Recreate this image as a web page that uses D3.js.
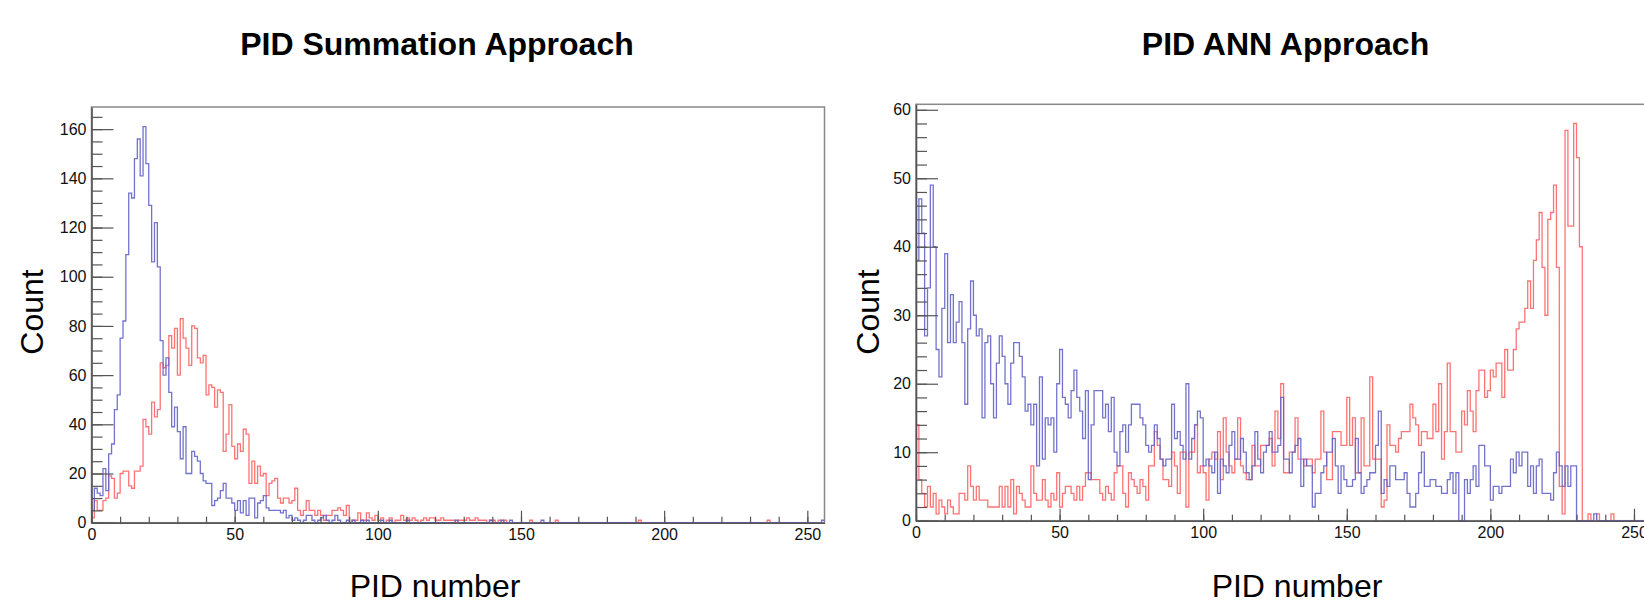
<!DOCTYPE html>
<html>
<head>
<meta charset="utf-8">
<script src="https://cdn.jsdelivr.net/npm/d3@7"></script>
<style>
  body { margin: 0; background: #fff; }
  svg { display: block; font-family: "Liberation Sans", Arial, Helvetica, sans-serif; }
</style>
</head>
<body>
<script>
// bin contents, 256 bins of width 1 (PID number 0..256)
var sumBlue = [
  5,14,12,11,22,13,28,32,46,52,75,82,109,134,132,148,156,141,161,146,129,106,122,104,74,60,67,53,39,47,37,26,
  39,20,20,29,27,25,20,17,16,16,7,9,10,13,16,10,10,8,5,9,4,9,3,10,10,2,8,9,11,6,5,5,
  5,5,4,5,2,3,1,2,1,0,1,3,3,1,0,1,2,3,1,0,1,3,1,0,0,1,0,1,0,0,1,0,
  1,0,0,0,0,1,0,0,1,0,0,0,0,0,1,0,0,0,0,0,0,0,0,0,0,0,0,0,0,0,0,1,
  0,0,0,0,0,0,0,0,0,0,0,1,0,0,0,1,0,0,1,0,0,0,0,0,0,0,0,0,0,1,0,0,
  0,0,0,0,0,0,0,0,0,0,0,0,0,0,0,0,0,0,0,0,0,0,0,0,0,0,0,0,0,0,0,0,
  0,0,0,0,0,0,0,0,0,0,0,0,0,0,0,0,0,0,0,0,0,0,0,0,0,0,0,0,0,0,0,0,
  0,0,0,0,0,0,0,0,0,0,0,0,0,0,0,0,0,0,0,0,0,0,0,0,0,0,0,0,0,0,0,1
];
var sumRed = [
  2,9,5,5,9,10,19,18,10,12,20,21,21,15,14,21,21,23,42,39,36,49,43,46,65,63,64,76,71,79,60,83,
  75,71,64,80,79,67,65,68,52,56,55,47,54,53,29,36,48,31,26,32,29,38,36,16,25,16,23,19,20,11,16,17,
  18,10,8,10,10,8,9,14,5,3,5,9,5,5,3,5,3,1,3,3,5,5,6,5,3,7,0,1,1,4,1,1,
  4,2,1,3,1,2,0,1,2,0,1,1,3,1,2,1,2,1,0,1,2,1,2,2,1,1,2,1,1,1,1,0,
  1,1,1,2,1,1,2,1,1,1,0,1,1,0,1,0,1,0,0,0,0,0,0,0,0,1,0,0,0,0,0,0,
  0,0,1,0,0,0,0,0,0,0,0,0,0,0,0,0,0,0,0,0,0,0,0,0,0,0,0,0,0,0,0,1,
  0,0,0,0,0,0,0,0,0,0,0,0,0,0,0,0,0,0,0,0,0,0,0,0,0,0,0,0,0,0,0,0,
  0,0,0,0,0,0,0,0,0,0,0,0,1,0,0,0,0,0,0,0,0,0,0,0,0,0,0,0,0,0,0,0
];
var annBlue = [
  38,47,42,27,34,49,40,25,21,31,39,26,33,26,29,32,26,17,28,35,30,27,28,15,26,27,20,15,23,27,24,20,
  17,23,26,26,24,21,16,17,14,17,8,21,9,15,14,15,10,20,25,18,17,15,19,22,18,16,12,19,6,14,19,19,
  19,15,17,13,18,10,8,13,14,10,14,17,17,17,15,14,11,10,11,14,12,9,8,9,9,17,12,13,11,9,20,9,
  12,14,16,15,8,9,8,7,10,4,9,8,7,11,13,9,9,12,10,7,6,8,13,9,7,10,11,13,10,10,11,18,
  9,9,7,10,11,12,5,9,8,8,2,4,4,7,8,10,10,12,8,4,8,6,5,5,6,12,7,4,5,6,7,7,
  11,16,4,6,5,8,8,6,6,6,7,4,2,2,4,7,10,5,5,6,6,5,5,4,4,6,7,4,7,0,0,6,
  4,6,8,5,11,11,8,8,3,5,5,4,5,5,5,9,7,10,8,10,10,5,8,4,8,9,4,4,4,3,7,10,
  8,5,8,5,8,8,0,0,0,0,0,0,1,0,0,0,0,0,0,0,0,0,0,0,0,0,0,0,0,0,0,0
];
var annRed = [
  14,6,4,2,5,2,4,1,3,2,1,3,2,1,1,4,4,3,8,5,3,5,3,3,3,2,2,2,2,5,2,5,
  2,6,1,5,4,3,2,2,8,4,3,3,6,3,2,4,3,7,2,4,5,5,4,3,5,3,5,7,7,6,6,6,
  4,3,5,4,3,7,8,8,4,2,7,6,5,4,6,5,3,8,8,13,11,9,6,6,5,10,8,4,10,10,2,10,
  10,14,7,8,7,3,9,10,9,13,6,15,10,8,7,9,15,8,7,6,6,11,8,8,11,11,11,12,8,16,12,20,
  7,7,10,10,15,9,9,8,9,9,7,9,9,16,10,6,6,13,13,13,11,11,18,11,15,7,7,15,8,8,21,9,
  9,9,2,3,14,11,11,10,12,13,13,13,17,15,14,11,13,13,12,12,17,13,20,9,13,23,13,13,10,10,16,14,
  19,16,13,19,22,22,18,19,22,21,23,23,18,25,22,22,25,28,29,29,31,35,31,38,41,45,37,30,44,45,49,37,
  5,1,57,43,43,58,53,40,0,0,1,0,0,1,0,0,0,0,1,0,0,0,0,0,0,0,0,0,0,0,0,0
];

var xTicks = [0, 50, 100, 150, 200, 250];
var sumYTicks = [0, 20, 40, 60, 80, 100, 120, 140, 160];
var annYTicks = [0, 10, 20, 30, 40, 50, 60];
var titles = ["PID Summation Approach", "PID ANN Approach"];
var xTitle = "PID number", yTitle = "Count";

var blue = "#6464c8", red = "#ff6464", axisColor = "#555";

var svg = d3.select("body").append("svg")
    .attr("width", 1644)
    .attr("height", 604);

var panels = [
  {blue: sumBlue, red: sumRed, yTicks: sumYTicks, yMax: 169, yMinor: 5,
   left: 91.5, right: 824.5, top: 107, bottom: 522.7,
   title: titles[0], titleX: 437, xTitleX: 435, yTitleX: 43},
  {blue: annBlue, red: annRed, yTicks: annYTicks, yMax: 60.8, yMinor: 2,
   left: 916, right: 1651.2, top: 104.3, bottom: 520.7,
   title: titles[1], titleX: 1285.5, xTitleX: 1297, yTitleX: 879}
];

panels.forEach(function(p) {
  var x = d3.scaleLinear().domain([0, 256]).range([p.left, p.right]);
  var y = d3.scaleLinear().domain([0, p.yMax]).range([p.bottom, p.top]);

  var g = svg.append("g");

  // frame
  g.append("rect")
      .attr("x", p.left).attr("y", p.top)
      .attr("width", p.right - p.left).attr("height", p.bottom - p.top)
      .attr("fill", "none")
      .attr("stroke", "#888")
      .attr("stroke-width", 1.5);

  var line = d3.line()
      .x(function(d) { return x(d[0]); })
      .y(function(d) { return y(d[1]); })
      .curve(d3.curveStepAfter);

  [[p.red, red], [p.blue, blue]].forEach(function(s) {
    var pts = s[0].map(function(v, i) { return [i, v]; });
    pts.push([s[0].length, s[0][s[0].length - 1]]);
    g.append("path")
        .attr("d", line(pts))
        .attr("fill", "none")
        .attr("stroke", s[1])
        .attr("stroke-width", 1.3)
        .attr("stroke-opacity", 0.9);
  });

  // minor ticks
  g.append("g")
      .attr("transform", "translate(" + p.left + ",0)")
      .call(d3.axisLeft(y).tickValues(d3.range(0, p.yMax, p.yMinor)).tickSize(-11).tickFormat(""))
      .call(function(a) { a.select(".domain").remove(); });
  g.append("g")
      .attr("transform", "translate(0," + p.bottom + ")")
      .call(d3.axisBottom(x).tickValues(d3.range(0, 256, 10)).tickSize(-6).tickFormat(""))
      .call(function(a) { a.select(".domain").remove(); });

  // major ticks + labels
  g.append("g")
      .attr("transform", "translate(" + p.left + ",0)")
      .call(d3.axisLeft(y).tickValues(p.yTicks).tickSize(-22).tickSizeOuter(0).tickPadding(5));
  g.append("g")
      .attr("transform", "translate(0," + p.bottom + ")")
      .call(d3.axisBottom(x).tickValues(xTicks).tickSize(-12).tickSizeOuter(0).tickPadding(6));

  g.selectAll(".tick line").attr("stroke", axisColor).attr("stroke-width", 1.2);
  g.selectAll(".domain").attr("stroke", axisColor).attr("stroke-width", 1.6);
  g.selectAll(".tick text")
      .attr("fill", "#111")
      .style("font-size", "16px")
      .style("font-family", "'Liberation Sans', Arial, sans-serif");

  // titles
  g.append("text")
      .attr("x", p.titleX).attr("y", 55)
      .attr("text-anchor", "middle")
      .style("font-size", "32px")
      .style("font-weight", "bold")
      .text(p.title);

  g.append("text")
      .attr("x", p.xTitleX).attr("y", 597)
      .attr("text-anchor", "middle")
      .style("font-size", "32px")
      .text(xTitle);

  g.append("text")
      .attr("transform", "translate(" + p.yTitleX + ",312) rotate(-90)")
      .attr("text-anchor", "middle")
      .style("font-size", "32px")
      .text(yTitle);
});
</script>
</body>
</html>
